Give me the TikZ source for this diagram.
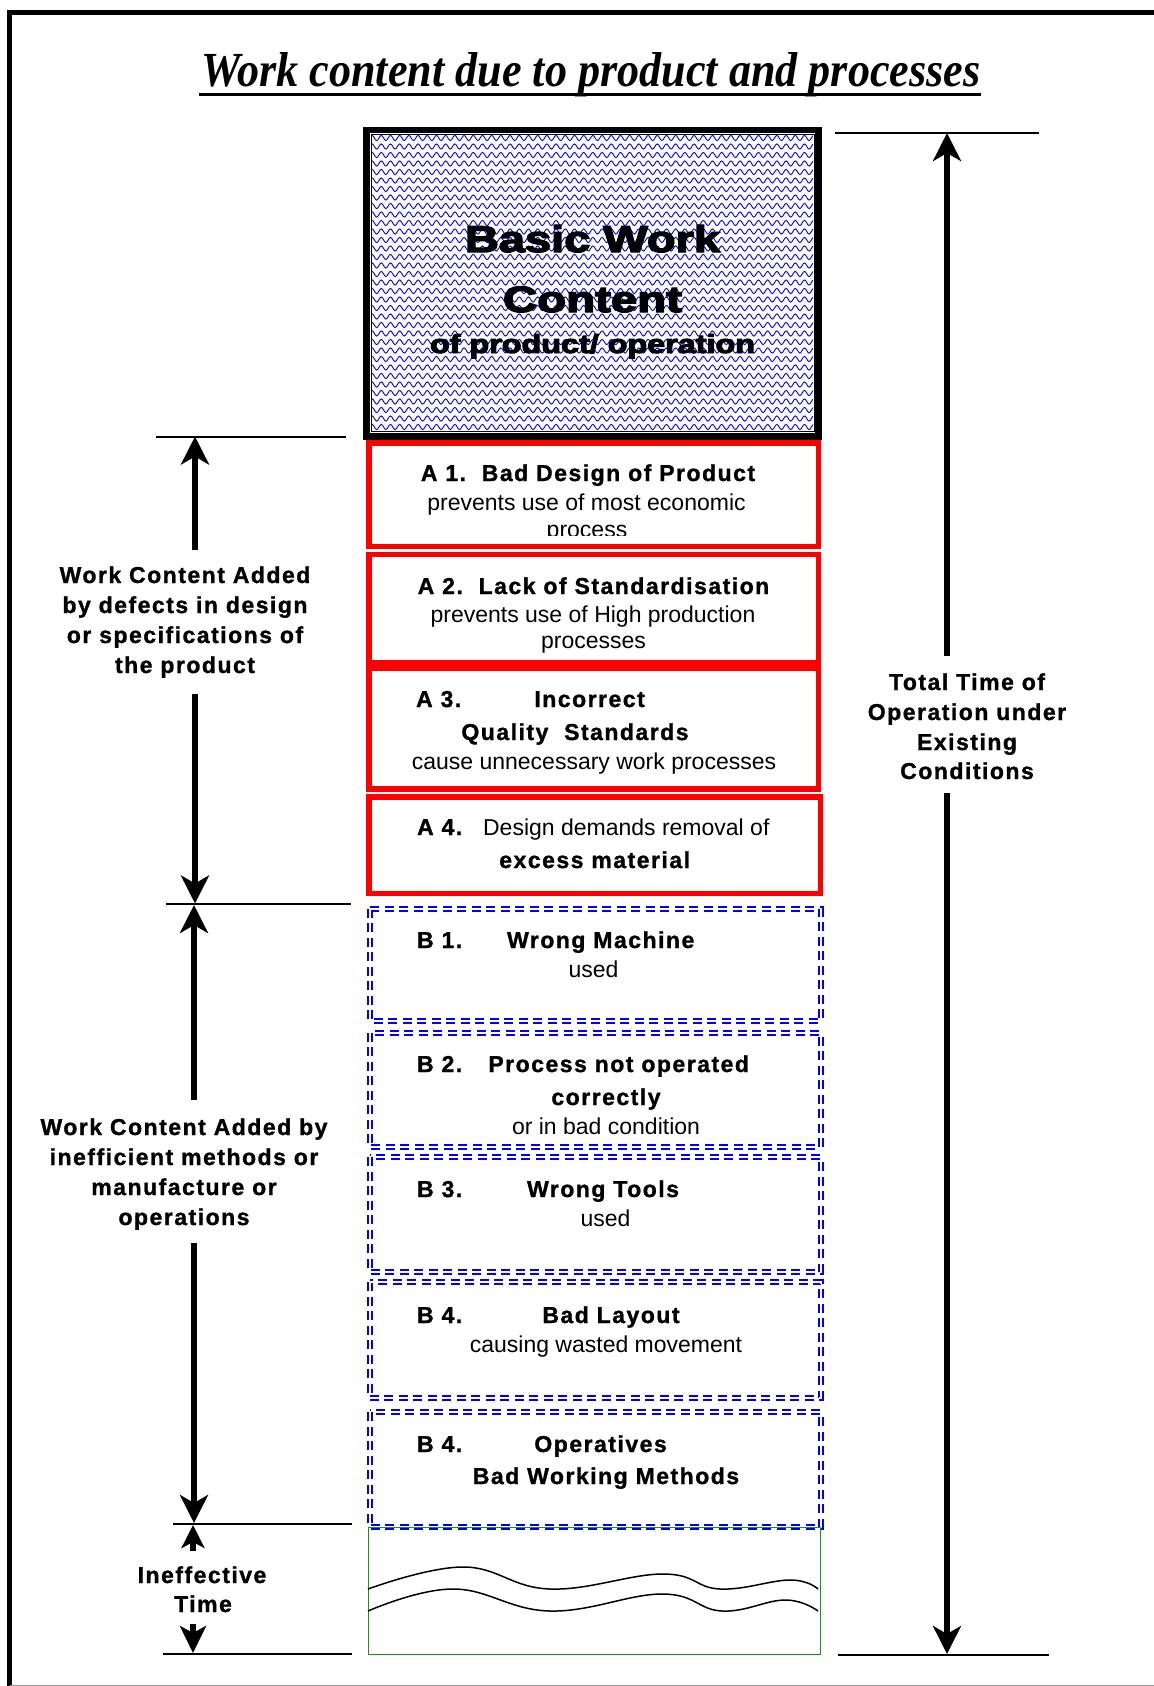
\documentclass[tikz,border=0pt]{standalone}
\usepackage{fontspec}
\setmainfont{Liberation Sans}
\newfontfamily\labfont[LetterSpace=6.5,FakeBold=1.2]{Liberation Sans}
\newfontfamily\titlefont{Liberation Serif}
\newfontfamily\heavyfont[FakeBold=3.5]{Liberation Sans}
\usetikzlibrary{arrows.meta,decorations.pathmorphing}
\definecolor{pureblue}{RGB}{0,0,255}
\definecolor{purered}{RGB}{255,0,0}
\definecolor{boxgreen}{RGB}{20,150,20}
\newcommand{\bwtextA}{\resizebox{127.5pt}{13.5pt}{\heavyfont\bfseries Basic Work}}
\newcommand{\bwtextB}{\resizebox{89.5pt}{12.8pt}{\heavyfont\bfseries Content}}
\newcommand{\bwtextC}{\resizebox{162.5pt}{9.5pt}{\heavyfont\bfseries of product/ operation}}
\begin{document}
\begin{tikzpicture}[x=0.5pt,y=-0.5pt,
  bl/.style={font=\labfont\bfseries\fontsize{11.5}{13}\selectfont, inner sep=0pt, anchor=base},
  blw/.style={bl, anchor=base west},
  rg/.style={font=\fontsize{11.5}{13}\selectfont, inner sep=0pt, anchor=base},
  rgw/.style={rg, anchor=base west},
  redbox/.style={draw=purered, line width=2.75pt},
  bluebox/.style={draw=pureblue, line width=1pt, double=white, double distance=1pt, dash pattern=on 4.5pt off 2.75pt},
  tick/.style={line width=1pt},
  arr/.style={line width=2.75pt, -{Stealth[length=14pt,width=14pt,inset=4pt]}},
  sarrA/.style={line width=2.75pt, -{Stealth[length=11.5pt,width=11.5pt,inset=3pt]}},
  sarrB/.style={line width=2.75pt, -{Stealth[length=13.5pt,width=13pt,inset=3.5pt]}},
  heavy/.style={inner sep=0pt, anchor=base},
  wave/.style={line width=0.75pt}
]
\useasboundingbox (0,0) rectangle (1154,1686);
% frame
\draw[line width=2.5pt] (9.5,1686) -- (9.5,12.5) -- (1160,12.5);
\draw[black!40, line width=0.5pt] (9.5,1685.5) -- (1154,1685.5);

% title
\node[anchor=base west, inner sep=0pt] (title) at (201,86.5)
  {\resizebox{389.5pt}{17pt}{\titlefont\bfseries\itshape Work content due to product and processes}};
\draw[line width=1.5pt] (199,95) -- (981,95);

% basic work content box
\begin{scope}
  \clip (372,136) rectangle (813,431);
  \foreach \yy in {138,146.5,...,433}
    \draw[pureblue, line width=0.45pt, decorate, decoration={snake, segment length=4.6pt, amplitude=1.3pt}] (360,\yy) -- (825,\yy);
\end{scope}
\draw[line width=0.5pt] (371,135) rectangle (814,431.7);
\draw[line width=3.3pt] (366.3,130) rectangle (818.4,436.7);
\node[heavy] (bwa) at (592.5,252) {\bwtextA};
\node[heavy] (bwb) at (592.5,312) {\bwtextB};
\node[heavy] (bwc) at (592.5,353) {\bwtextC};

% red boxes
\draw[redbox] (368.75,442.75) rectangle (818.25,546.25);
\draw[redbox] (368.75,554.25) rectangle (818.25,662.75);
\draw[redbox] (368.75,668.25) rectangle (818.25,788.75);
\draw[redbox] (368.75,796.75) rectangle (820.25,893.25);

\node[bl] (aone) at (588,481) {A 1.~~Bad Design of Product};
\node[rg] (aonea) at (586.5,510) {prevents use of most economic};
\begin{scope}
  \clip (372,445) rectangle (815,535);
  \node[rg] (aoneb) at (587,537) {process};
\end{scope}
\node[bl] (atwo) at (593.5,594) {A 2.~~Lack of Standardisation};
\node[rg] (atwoa) at (593,622) {prevents use of High production};
\node[rg] (atwob) at (593.5,648) {processes};
\node[blw] (athree) at (415.7,707) {A 3.};
\node[blw] (athreea) at (534,707) {Incorrect};
\node[bl] (athreeb) at (575,740) {Quality~~Standards};
\node[rg] (athreec) at (594,769) {cause unnecessary work processes};
\node[blw] (afour) at (416.7,835) {A 4.};
\node[rgw] (afoura) at (482.7,835) {Design demands removal of};
\node[bl] (afourb) at (594.7,868) {excess material};

% blue dashed boxes
\draw[bluebox] (369.5,908.5) rectangle (820.5,1020.5);
\draw[bluebox] (369.5,1032.5) rectangle (820.5,1147);
\draw[bluebox] (369.5,1157) rectangle (820.5,1272);
\draw[bluebox] (369.5,1282) rectangle (820.5,1398);
\draw[bluebox] (369.5,1412) rectangle (820.5,1527);

\node[blw] (bone) at (416.7,948) {B 1.};
\node[blw] (bonea) at (506.7,948) {Wrong Machine};
\node[rg] (boneb) at (593.5,977) {used};
\node[blw] (btwo) at (416.7,1072) {B 2.};
\node[blw] (btwoa) at (488,1072) {Process not operated};
\node[bl] (btwob) at (606,1105) {correctly};
\node[rg] (btwoc) at (606,1134) {or in bad condition};
\node[blw] (bthree) at (416.7,1197) {B 3.};
\node[blw] (bthreea) at (526.7,1197) {Wrong Tools};
\node[rg] (bthreeb) at (605.5,1226) {used};
\node[blw] (bfour) at (416.7,1323) {B 4.};
\node[blw] (bfoura) at (542,1323) {Bad Layout};
\node[rg] (bfourb) at (606,1352) {causing wasted movement};
\node[blw] (bfive) at (416.7,1452) {B 4.};
\node[blw] (bfivea) at (534,1452) {Operatives};
\node[bl] (bfiveb) at (606,1484) {Bad Working Methods};

% ineffective time box
\draw[boxgreen, line width=0.5pt] (368,1527) rectangle (820,1654);
\draw[wave] plot[smooth, tension=0.7] coordinates {(368,1589) (463,1567) (550,1589) (663,1574) (720,1589) (790,1580) (818,1589)};
\draw[wave] plot[smooth, tension=0.7] coordinates {(368,1611) (453,1589) (550,1611) (662,1594) (722,1611) (785,1600) (818,1611)};

% left tick lines
\draw[tick] (156,436.5) -- (346,436.5);
\draw[tick] (166,904) -- (351,904);
\draw[tick] (173,1524) -- (352,1524);
\draw[tick] (163,1654) -- (352,1654);
% right tick lines
\draw[tick] (835,133) -- (1039,133);
\draw[tick] (838,1655) -- (1049,1655);

% left labels
\node[bl] (la1) at (185,583) {Work Content Added};
\node[bl] (la2) at (185,613) {by defects in design};
\node[bl] (la3) at (185,643) {or specifications of};
\node[bl] (la4) at (185,673) {the product};
\node[bl] (lb1) at (184,1135) {Work Content Added by};
\node[bl] (lb2) at (184,1165) {inefficient methods or};
\node[bl] (lb3) at (184,1195) {manufacture or};
\node[bl] (lb4) at (184,1225) {operations};
\node[bl] (li1) at (202,1583) {Ineffective};
\node[bl] (li2) at (203,1612) {Time};
% right label
\node[bl] (rt1) at (967,690) {Total Time of};
\node[bl] (rt2) at (967,720) {Operation under};
\node[bl] (rt3) at (967,750) {Existing};
\node[bl] (rt4) at (967,779) {Conditions};

% arrow coordinates
\coordinate (aTop) at (195,436.5);
\coordinate (aS1) at (195,550);
\coordinate (aS2) at (195,694);
\coordinate (aBot) at (195,903.5);
\coordinate (bTop) at (194,905);
\coordinate (bS1) at (194,1100);
\coordinate (bS2) at (194,1243);
\coordinate (bBot) at (194,1523);
\coordinate (iTop) at (193,1525);
\coordinate (iS1) at (193,1551);
\coordinate (iS2) at (193,1624);
\coordinate (iBot) at (193,1653);
\coordinate (rTop) at (947,133);
\coordinate (rS1) at (947,656);
\coordinate (rS2) at (947,793);
\coordinate (rBot) at (947,1654);

\draw[arr] (aS1) -- (aTop);
\draw[arr] (aS2) -- (aBot);
\draw[arr] (bS1) -- (bTop);
\draw[arr] (bS2) -- (bBot);
\draw[sarrA] (iS1) -- (iTop);
\draw[sarrB] (iS2) -- (iBot);
\draw[arr] (rS1) -- (rTop);
\draw[arr] (rS2) -- (rBot);
\end{tikzpicture}
\end{document}
